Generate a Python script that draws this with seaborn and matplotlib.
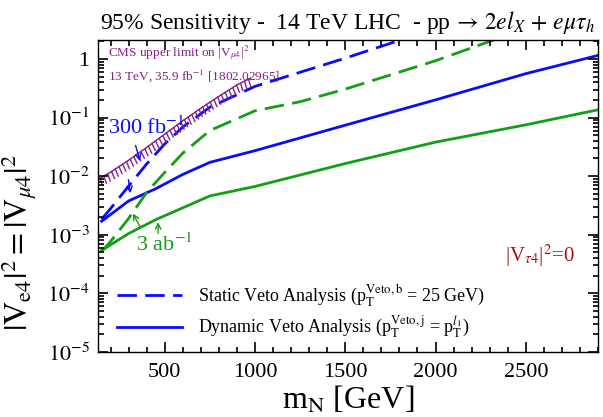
import numpy as np
import pandas as pd
import matplotlib
matplotlib.use("Agg")
import matplotlib.pyplot as plt
import matplotlib.patheffects as pe
from matplotlib.lines import Line2D
from matplotlib.collections import LineCollection
from matplotlib.ticker import FixedLocator, NullLocator
import seaborn as sns

# --- values ---
mN_solid = [150, 300, 450, 600, 750, 1000, 1500, 2000, 2500, 3000]
dyn_300fb = [1.7e-3, 3.78e-3, 6.1e-3, 1.07e-2, 1.72e-2, 2.72e-2, 7.4e-2, 0.20, 0.56, 1.37]
dyn_3ab = [5.4e-4, 1.05e-3, 1.81e-3, 2.88e-3, 4.6e-3, 6.67e-3, 1.64e-2, 3.8e-2, 7.5e-2, 0.157]

mN_stat_300 = [150, 200, 300, 400, 500, 600, 750, 1000, 1500, 2000]
stat_300fb = [1.83e-3, 2.8e-3, 6.8e-3, 1.62e-2, 3.55e-2, 6.9e-2, 0.15, 0.34, 1.03, 3.3]

mN_stat_3ab = [150, 200, 300, 400, 500, 600, 750, 1000, 1250, 1500, 2000, 2500]
stat_3ab = [5.2e-4, 7.7e-4, 1.9e-3, 5.3e-3, 1.16e-2, 2.47e-2, 6.0e-2, 0.13, 0.186, 0.305, 0.93, 3.3]

mN_cms = [130, 200, 300, 400, 500, 600, 700, 800, 900, 975]
cms_limit = [8.8e-3, 1.17e-2, 1.87e-2, 3.1e-2, 5.2e-2, 8.8e-2, 0.144, 0.23, 0.36, 0.47]

ytick_vals = [1e-5, 1e-4, 1e-3, 1e-2, 1e-1, 1]
ytick_labels = ["$10^{-5}$", "$10^{-4}$", "$10^{-3}$", "$10^{-2}$", "$10^{-1}$", "1"]
xtick_vals = [500, 1000, 1500, 2000, 2500]
xlim = (130, 2900)
ylim = (1e-5, 2.1)

rows = []
for x, y in zip(mN_solid, dyn_300fb):
    rows.append((x, y, "300", "dynamic"))
for x, y in zip(mN_solid, dyn_3ab):
    rows.append((x, y, "3000", "dynamic"))
for x, y in zip(mN_stat_300, stat_300fb):
    rows.append((x, y, "300", "static"))
for x, y in zip(mN_stat_3ab, stat_3ab):
    rows.append((x, y, "3000", "static"))
df = pd.DataFrame(rows, columns=["mN", "V2", "lumi", "analysis"])

plt.rcParams.update({
    "font.family": ["Liberation Serif", "DejaVu Serif"],
    "mathtext.fontset": "stix",
})

BLUE = "#0a0aff"
GREEN = "#149e14"
PURPLE = "#852285"

fig = plt.figure(figsize=(6.03, 4.17), dpi=100)
ax = fig.add_axes([98 / 603, 1 - 352 / 417, 500 / 603, 312 / 417])

sns.lineplot(data=df, x="mN", y="V2", hue="lumi", style="analysis",
             palette={"300": BLUE, "3000": GREEN},
             dashes={"static": (7, 3), "dynamic": ""},
             estimator=None, sort=True, legend=False, linewidth=2.0, ax=ax)

# CMS limit with hatching
sns.lineplot(x=mN_cms, y=cms_limit, color=PURPLE, linewidth=0.8, ax=ax,
             estimator=None,
             path_effects=[pe.withTickedStroke(angle=-100, spacing=3.2, length=1.7,
                                               linewidth=1.0),
                           pe.Normal()])

ax.set_yscale("log")
ax.set_xlim(*xlim)
ax.set_ylim(*ylim)

ax.yaxis.set_major_locator(FixedLocator(ytick_vals))
ax.set_yticklabels(ytick_labels)
ax.yaxis.set_minor_locator(NullLocator())
ax.xaxis.set_major_locator(FixedLocator(xtick_vals))
ax.xaxis.set_minor_locator(NullLocator())

# tick labels only; the tick marks are drawn as plain segments below
ax.tick_params(which="both", length=0, labelsize=16)
ax.tick_params(axis="x", pad=8)
ax.tick_params(axis="y", pad=6)
for s in ax.spines.values():
    s.set_linewidth(1.0)
    s.set_color("black")

# inward ticks on all four sides
x_minor = [v for v in range(200, xlim[1] + 1, 100) if v not in xtick_vals]
y_minor = [m * d for d in ytick_vals for m in range(2, 10) if m * d <= ylim[1]]
maj_x, min_x = 10 / 312, 5.5 / 312
maj_y, min_y = 10 / 500, 5.5 / 500
segs_x = []
for v, L in [(v, maj_x) for v in xtick_vals] + [(v, min_x) for v in x_minor]:
    segs_x.append([(v, 0), (v, L)])
    segs_x.append([(v, 1), (v, 1 - L)])
segs_y = []
for v, L in [(v, maj_y) for v in ytick_vals] + [(v, min_y) for v in y_minor]:
    segs_y.append([(0, v), (L, v)])
    segs_y.append([(1, v), (1 - L, v)])
ax.add_collection(LineCollection(segs_x, colors="black", linewidths=1.2, clip_on=False,
                                 transform=ax.get_xaxis_transform(), zorder=3),
                  autolim=False)
ax.add_collection(LineCollection(segs_y, colors="black", linewidths=1.2, clip_on=False,
                                 transform=ax.get_yaxis_transform(), zorder=3),
                  autolim=False)
ax.set_xlim(*xlim)
ax.set_ylim(*ylim)

ax.set_xlabel(r"m$_\mathrm{N}$ [GeV]", fontsize=23, labelpad=2)
ax.set_ylabel(r"$|\mathrm{V}_{\mathrm{e}4}|^2 = |\mathrm{V}_{\mu4}|^2$", fontsize=23)
ax.yaxis.set_label_coords(-0.118, 0.35)
ax.set_title(r"95% Sensitivity -  14 TeV LHC  - pp$\,\rightarrow\,2el_X\,+\,e\mu\tau_h$",
             fontsize=17, pad=8)

# annotations
ax.text(185, 0.067, r"300 fb$^{-1}$", color=BLUE, fontsize=16, va="center")
ax.annotate("", xy=(367, 0.0163), xytext=(334, 0.037),
            arrowprops=dict(arrowstyle="->", color=BLUE, lw=1.0))
ax.annotate("", xy=(312, 4.6e-3), xytext=(296, 9.7e-3),
            arrowprops=dict(arrowstyle="->", color=BLUE, lw=1.0))

ax.text(340, 6.8e-4, r"3 ab$^{-1}$", color=GREEN, fontsize=16, va="center")
ax.annotate("", xy=(316, 2.54e-3), xytext=(371, 1.23e-3),
            arrowprops=dict(arrowstyle="->", color=GREEN, lw=1.0))
ax.annotate("", xy=(463, 1.83e-3), xytext=(463, 9.5e-4),
            arrowprops=dict(arrowstyle="->", color=GREEN, lw=1.0))

ax.text(185, 1.3, r"CMS upper limit on |V$_{\mu4}$|$^2$", color=PURPLE, fontsize=9.5, va="center")
ax.text(185, 0.52, r"13 TeV, 35.9 fb$^{-1}$ [1802.02965]", color=PURPLE, fontsize=9.5, va="center")

ax.text(2580, 4.3e-4, r"|V$_{\tau4}$|$^2$=0", color="#aa1111", fontsize=15, va="center",
        ha="center")

handles = [Line2D([], [], color=BLUE, lw=2.0, dashes=(7, 3)),
           Line2D([], [], color=BLUE, lw=2.0)]
labels = [r"Static Veto Analysis (p$_\mathrm{T}^\mathrm{Veto,b}$ = 25 GeV)",
          r"Dynamic Veto Analysis (p$_\mathrm{T}^\mathrm{Veto,j}$ = p$_\mathrm{T}^{l_1}$)"]
ax.legend(handles, labels, loc="lower left", bbox_to_anchor=(0.005, -0.015), frameon=False,
          fontsize=13, handlelength=3.6, handletextpad=0.9, labelspacing=0.32)

fig.savefig("out.png", dpi=100)
